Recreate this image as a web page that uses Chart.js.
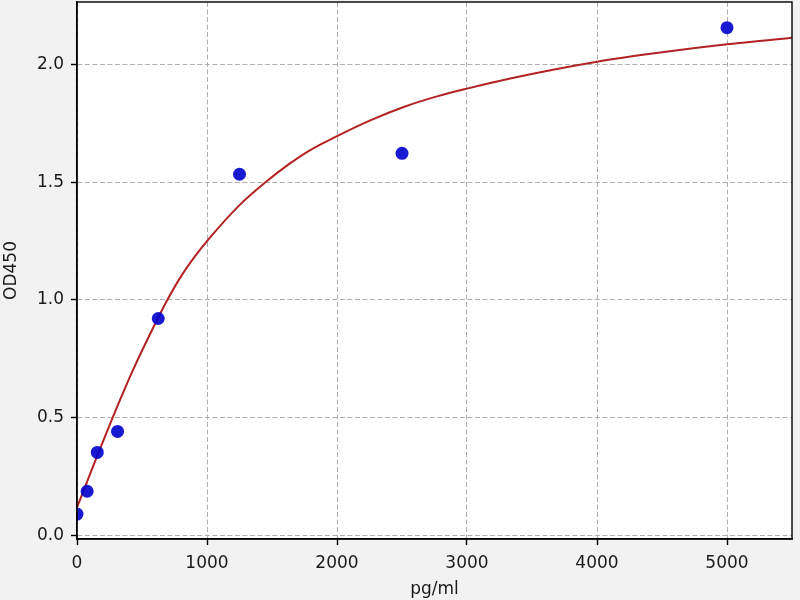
<!DOCTYPE html>
<html>
<head>
<meta charset="utf-8">
<script src="https://cdn.jsdelivr.net/npm/chart.js@4.4.0/dist/chart.umd.min.js"></script>
<style>
  html, body { margin: 0; padding: 0; background: #f2f2f2; }
  #wrap { width: 800px; height: 600px; }
</style>
</head>
<body>
<div id="wrap"><canvas id="c" width="800" height="600"></canvas></div>
<script>
// Standard points (concentration pg/ml vs OD450)
const stdConc = [0, 78, 156, 312, 625, 1250, 2500, 5000];
const stdOD   = [0.090, 0.187, 0.352, 0.441, 0.921, 1.534, 1.623, 2.157];

// Fitted curve
const curveConc = [0, 78, 156, 267, 331, 433, 625, 700, 800, 900, 1000, 1254, 1450, 1638, 1794, 2000, 2256, 2513, 2769, 3000, 3333, 4000, 4500, 5000, 5500];
const curveOD   = [0.118, 0.228, 0.338, 0.490, 0.575, 0.705, 0.925, 1.005, 1.100, 1.180, 1.250, 1.405, 1.500, 1.580, 1.637, 1.696, 1.763, 1.820, 1.865, 1.898, 1.941, 2.012, 2.052, 2.086, 2.114];

// Tick labels
const xTicks = [0, 1000, 2000, 3000, 4000, 5000];
const yTicks = [0.0, 0.5, 1.0, 1.5, 2.0];

const FONT = { family: 'DejaVu Sans', size: 17 };
const TEXT = '#1a1a1a';

const bgPlugin = {
  id: 'bg',
  beforeDraw(chart) {
    const { ctx, chartArea: a } = chart;
    ctx.save();
    ctx.fillStyle = '#f2f2f2';
    ctx.fillRect(0, 0, chart.width, chart.height);
    ctx.fillStyle = '#ffffff';
    ctx.fillRect(a.left, a.top, a.right - a.left, a.bottom - a.top);
    ctx.restore();
  },
  afterDraw(chart) {
    const { ctx, chartArea: a } = chart;
    ctx.save();
    ctx.strokeStyle = '#000';
    ctx.lineWidth = 1.4;
    ctx.strokeRect(a.left, a.top, a.right - a.left, a.bottom - a.top);
    ctx.restore();
  }
};

new Chart(document.getElementById('c'), {
  type: 'scatter',
  data: {
    datasets: [
      {
        label: 'standards',
        data: stdConc.map((x, i) => ({ x: x, y: stdOD[i] })),
        backgroundColor: 'rgba(0,0,205,0.9)',
        borderColor: 'rgba(0,0,205,0.9)',
        borderWidth: 0,
        pointRadius: 6.5,
        showLine: false
      },
      {
        label: 'fit',
        data: curveConc.map((x, i) => ({ x: x, y: curveOD[i] })),
        showLine: true,
        borderColor: '#b22222',
        borderWidth: 2,
        pointRadius: 0,
        cubicInterpolationMode: 'monotone',
        fill: false
      }
    ]
  },
  options: {
    responsive: false,
    animation: false,
    devicePixelRatio: 1,
    layout: { autoPadding: false, padding: { top: 2, right: 8, left: 0, bottom: 0 } },
    plugins: { legend: { display: false }, tooltip: { enabled: false } },
    scales: {
      x: {
        type: 'linear',
        min: 0, max: 5500,
        afterFit(s) { s.height = 61; s.paddingLeft = 0; s.paddingRight = 0; },
        afterBuildTicks(s) { s.ticks = xTicks.map(v => ({ value: v })); },
        ticks: { font: FONT, color: TEXT, padding: 8, maxRotation: 0, autoSkip: false,
                 callback: v => String(v) },
        grid: { color: '#b0b0b0', lineWidth: 1,
                tickLength: 6, tickColor: '#000', tickWidth: 1.4, tickBorderDash: [] },
        border: { display: true, color: '#000', width: 1.4, dash: [5, 2.5] },
        title: { display: true, text: 'pg/ml', font: FONT, color: TEXT, padding: 0 }
      },
      y: {
        type: 'linear',
        min: -0.016, max: 2.266,
        afterFit(s) { s.width = 77; s.paddingTop = 0; s.paddingBottom = 0; },
        afterBuildTicks(s) { s.ticks = yTicks.map(v => ({ value: v })); },
        ticks: { font: FONT, color: TEXT, padding: 7, autoSkip: false,
                 callback: v => Number(v).toFixed(1) },
        grid: { color: '#b0b0b0', lineWidth: 1,
                tickLength: 6, tickColor: '#000', tickWidth: 1.4, tickBorderDash: [] },
        border: { display: true, color: '#000', width: 1.4, dash: [5, 2.5] },
        title: { display: true, text: 'OD450', font: FONT, color: TEXT, padding: { top: 1, bottom: 0 } }
      }
    }
  },
  plugins: [bgPlugin]
});
</script>
</body>
</html>
